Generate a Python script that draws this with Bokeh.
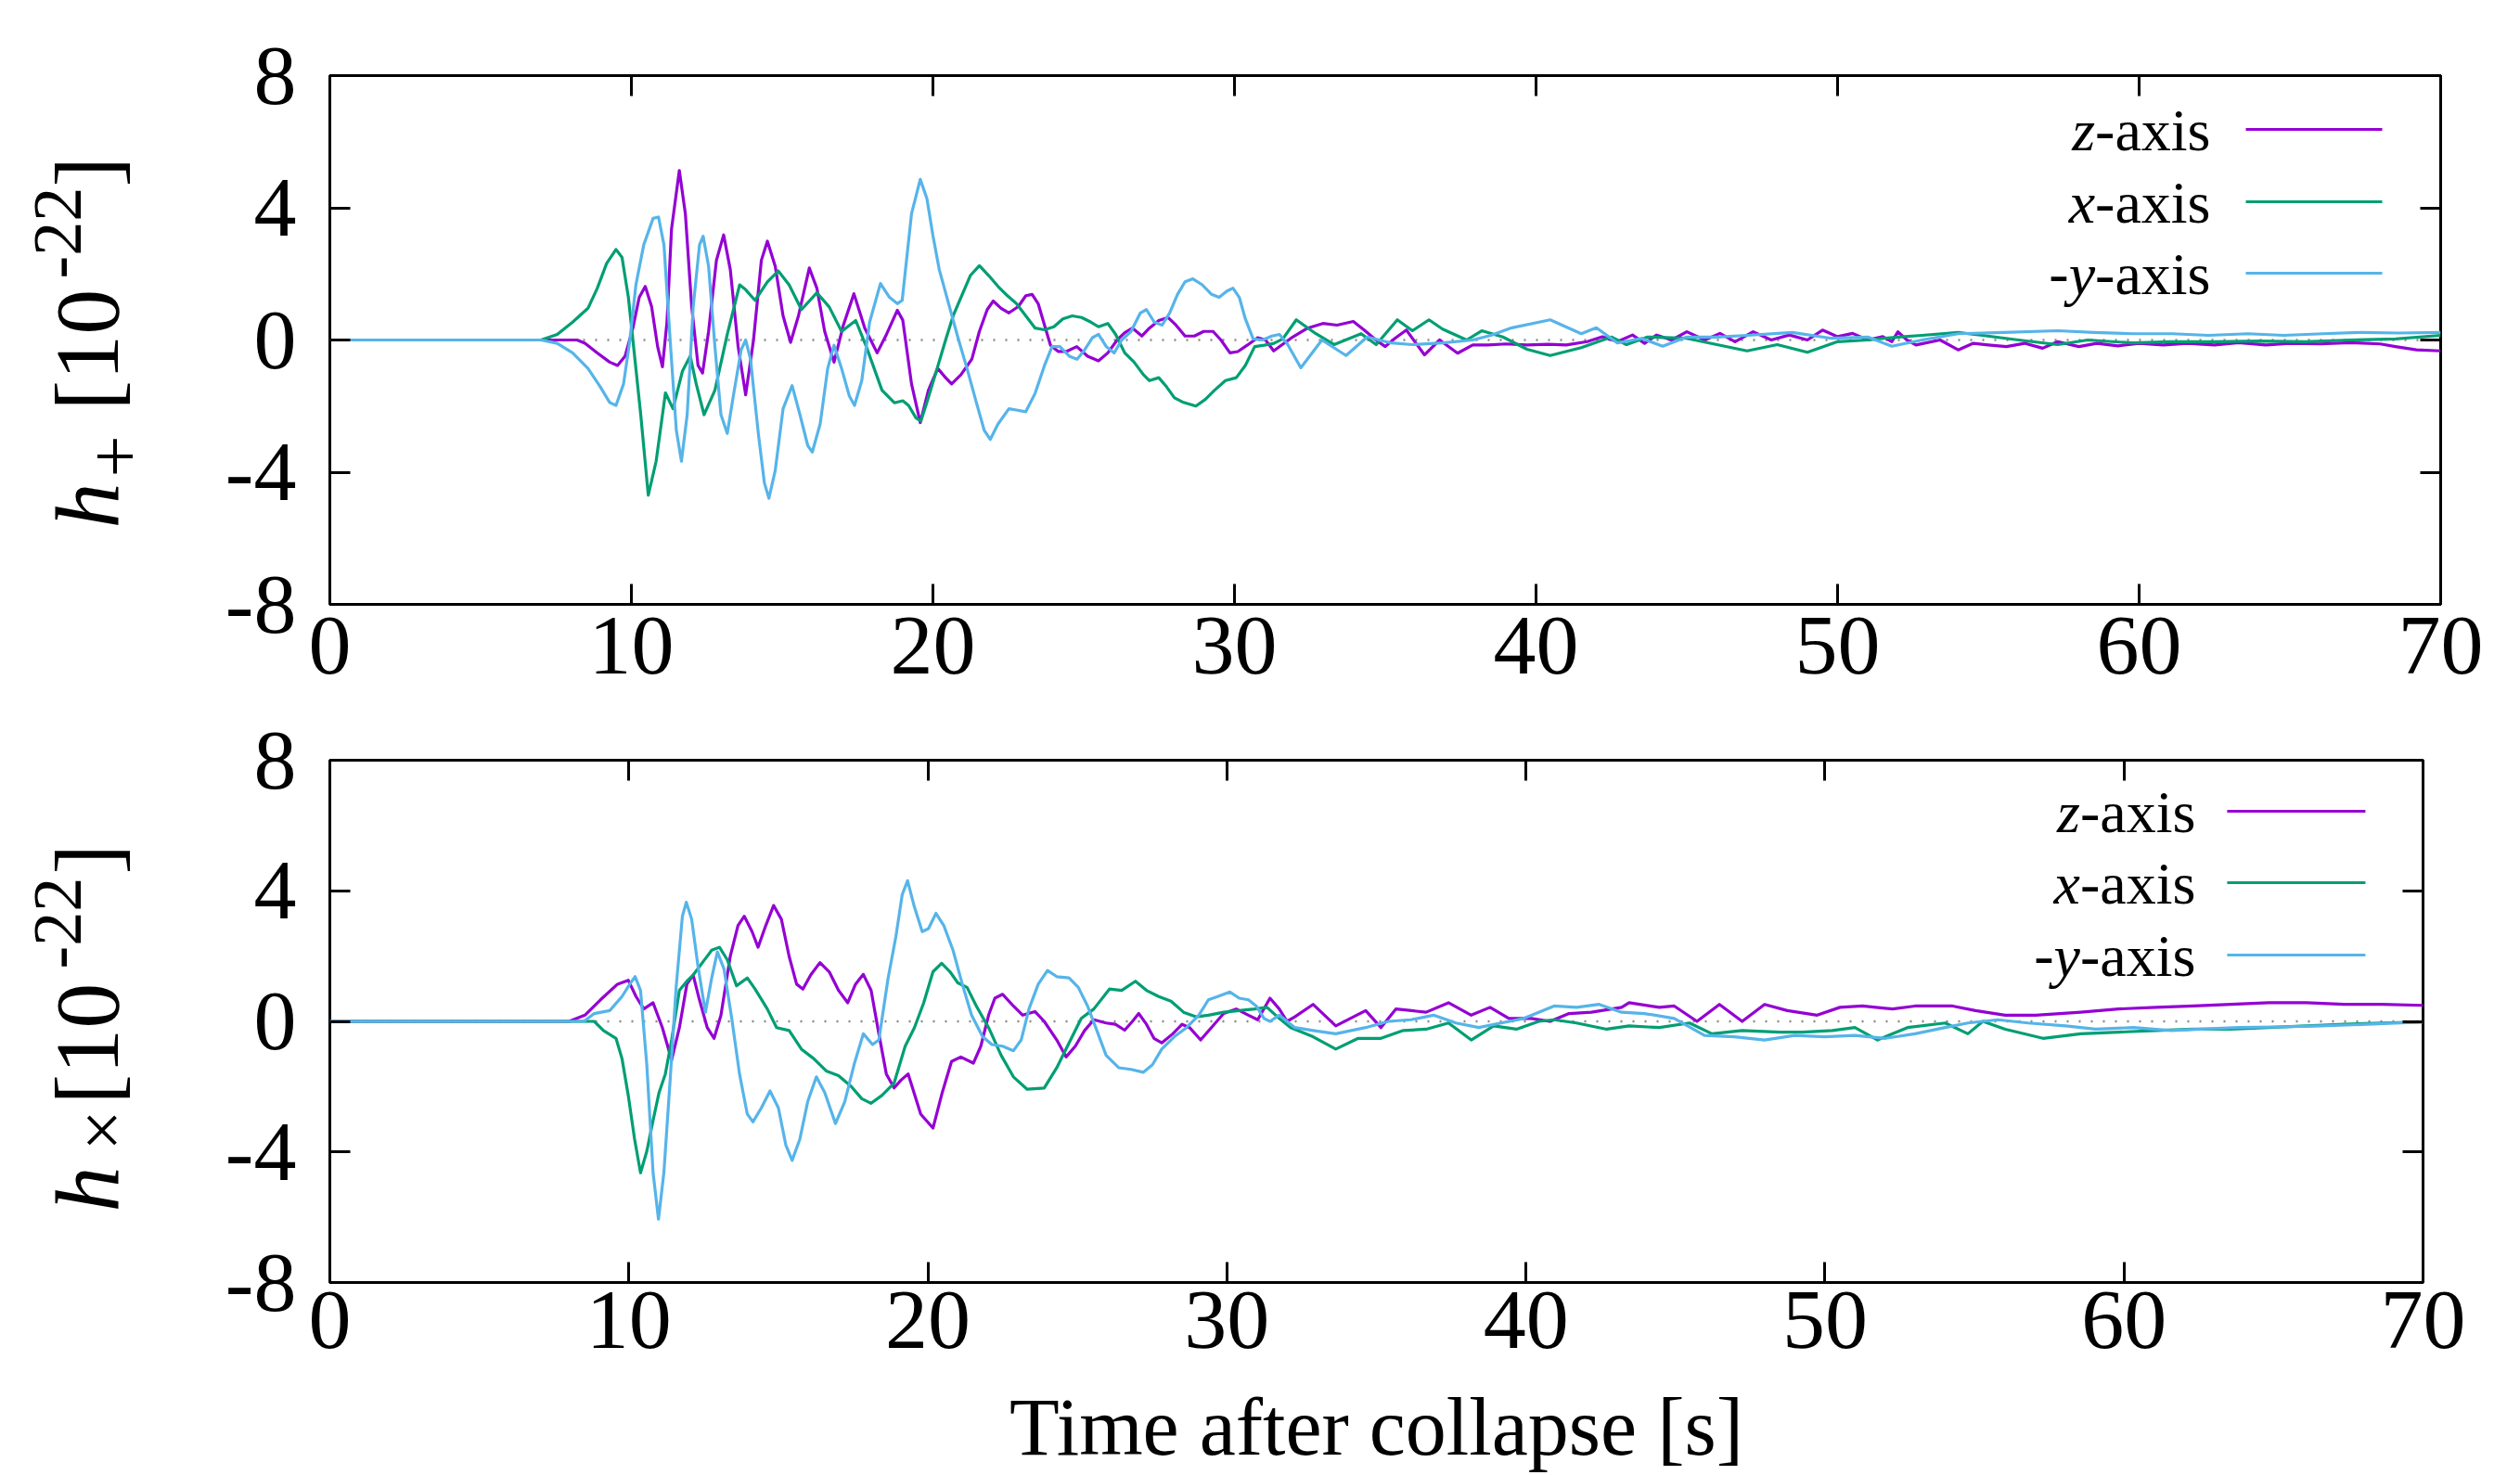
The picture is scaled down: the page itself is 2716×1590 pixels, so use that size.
import math
from bokeh.plotting import figure
from bokeh.models import Range1d, FixedTicker, LinearAxis, Span, Label, Arrow
from bokeh.layouts import column, row
from bokeh.embed import file_html
from bokeh.resources import INLINE

# ---------------- data ----------------
x_ticks = [0, 10, 20, 30, 40, 50, 60, 70]
x_tick_labels = ["0", "10", "20", "30", "40", "50", "60", "70"]
y_ticks = [-8, -4, 0, 4, 8]
y_tick_labels = ["-8", "-4", "0", "4", "8"]
series_names = ["z-axis", "x-axis", "-y-axis"]
series_colors = ["#9400D3", "#009E73", "#56B4E9"]
x_title = "Time after collapse [s]"

# h_plus, z-axis
t_plus_z = [0, 8.2, 8.46, 8.87, 9.28, 9.54, 9.79, 10.05, 10.26, 10.46, 10.67, 10.87, 11.03, 11.18, 11.33, 11.59,
            11.79, 12.0, 12.21, 12.36, 12.56, 12.82, 13.06, 13.28, 13.54, 13.79, 14.05, 14.31, 14.51, 14.77, 15.03,
            15.28, 15.54, 15.9, 16.15, 16.41, 16.72, 17.03, 17.38, 17.74, 18.15, 18.46, 18.82, 19.0, 19.29, 19.58,
            19.85, 20.16, 20.42, 20.62, 20.93, 21.29, 21.54, 21.8, 22.0, 22.26, 22.52, 22.83, 23.08, 23.29, 23.49,
            23.7, 23.9, 24.16, 24.42, 24.77, 25.13, 25.49, 25.8, 26.11, 26.36, 26.62, 26.93, 27.18, 27.49, 27.8,
            28.06, 28.36, 28.67, 28.98, 29.29, 29.55, 29.85, 30.11, 30.42, 30.77, 31.03, 31.3, 31.93, 32.4, 32.93,
            33.4, 33.94, 34.3, 34.69, 35.0, 35.32, 35.7, 36.3, 36.8, 37.4, 37.9, 38.4, 39.0, 39.7, 40.4, 41.0, 41.7,
            42.2, 42.7, 43.2, 43.6, 44.0, 44.5, 45.0, 45.6, 46.1, 46.6, 47.2, 47.8, 48.4, 49.0, 49.5, 50.0, 50.5,
            51.0, 51.5, 51.8, 52.0, 52.3, 52.6, 53.4, 54.0, 54.5, 55.0, 55.6, 56.2, 56.8, 57.3, 58.0, 58.6, 59.3,
            60.0, 60.8, 61.6, 62.5, 63.3, 64.2, 65.0, 66.0, 67.0, 68.0, 68.5, 69.2, 70.0]
h_plus_z = [0, 0, -0.1, -0.39, -0.67, -0.77, -0.49, 0.36, 1.29, 1.62, 1.01, -0.2, -0.81, 0.54, 3.35, 5.13,
            3.82, 1.01, -0.77, -1.0, 0.26, 2.41, 3.18, 2.13, -0.2, -1.66, 0.0, 2.41, 2.99, 2.23, 0.73,
            -0.07, 0.73, 2.18, 1.57, 0.26, -0.67, 0.45, 1.4, 0.36, -0.39, 0.17, 0.9, 0.6, -1.33, -2.5,
            -1.52, -0.86, -1.14, -1.33, -1.05, -0.58, 0.26, 0.92, 1.18, 0.96, 0.82, 1.01, 1.34, 1.38, 1.1,
            0.45, -0.16, -0.35, -0.35, -0.2, -0.49, -0.63, -0.39, 0.0, 0.22, 0.36, 0.12, 0.36, 0.59, 0.68,
            0.45, 0.12, 0.12, 0.26, 0.26, 0.0, -0.39, -0.35, -0.16, 0.07, 0.0, -0.33, 0.09, 0.35, 0.5,
            0.45, 0.56, 0.3, 0.0, -0.2, 0.05, 0.3, -0.45, 0.0, -0.4, -0.15, -0.15, -0.12, -0.15, -0.13, -0.15, -0.05,
            0.1, -0.05, 0.15, -0.1, 0.15, 0.0, 0.25, 0.0, 0.2, -0.05, 0.25, 0.0, 0.15, 0.0, 0.3, 0.1, 0.2,
            0.0, 0.1, -0.05, 0.25, 0.0, -0.15, 0.0, -0.3, -0.1, -0.15, -0.2, -0.1, -0.25, -0.05, -0.2, -0.1, -0.18,
            -0.1, -0.15, -0.1, -0.15, -0.08, -0.15, -0.1, -0.12, -0.08, -0.12, -0.2, -0.3, -0.33]

# h_plus, x-axis
t_plus_x = [0, 7.0, 7.54, 8.05, 8.56, 8.87, 9.18, 9.49, 9.69, 9.9, 10.05, 10.31, 10.56, 10.82, 11.13, 11.38,
            11.69, 11.95, 12.15, 12.41, 12.77, 13.18, 13.59, 13.79, 14.1, 14.51, 14.87, 15.23, 15.64, 16.15,
            16.56, 16.97, 17.44, 17.79, 18.31, 18.72, 19.0, 19.19, 19.44, 19.6, 19.8, 20.11, 20.42, 20.67, 20.93,
            21.24, 21.54, 21.85, 22.16, 22.47, 22.77, 23.08, 23.39, 23.7, 24.01, 24.31, 24.62, 24.93, 25.24,
            25.49, 25.8, 26.06, 26.36, 26.67, 26.98, 27.18, 27.49, 27.75, 28.01, 28.31, 28.72, 29.03, 29.34,
            29.7, 30.06, 30.36, 30.67, 30.98, 31.29, 31.6, 32.05, 32.7, 33.3, 34.2, 34.7, 35.4, 35.9, 36.45,
            36.9, 37.7, 38.2, 38.9, 39.7, 40.47, 41.5, 42.5, 43.0, 43.7, 45.0, 46.0, 47.0, 48.0, 49.0, 50.0,
            51.0, 52.0, 52.8, 54.0, 54.8, 56.0, 57.3, 58.3, 59.8, 61.0, 62.5, 64.0, 65.5, 67.0, 68.5, 70.0]
h_plus_x = [0, 0, 0.17, 0.54, 0.96, 1.57, 2.32, 2.74, 2.5, 1.29, 0.0, -2.26, -4.7, -3.67, -1.6, -2.08,
            -0.95, -0.49, -1.33, -2.26, -1.52, 0.17, 1.67, 1.52, 1.2, 1.76, 2.09, 1.67, 0.92, 1.43,
            1.0, 0.26, 0.59, -0.2, -1.52, -1.9, -1.84, -1.98, -2.36, -2.45, -1.89, -0.95, 0.0, 0.73, 1.29,
            1.95, 2.25, 1.95, 1.62, 1.34, 1.1, 0.73, 0.36, 0.31, 0.4, 0.64, 0.73, 0.68, 0.54,
            0.4, 0.5, 0.17, -0.39, -0.67, -1.05, -1.23, -1.14, -1.42, -1.75, -1.89, -2.0, -1.8, -1.52,
            -1.23, -1.14, -0.77, -0.2, -0.16, -0.11, 0.03, 0.61, 0.19, -0.14, 0.19, -0.14, 0.61, 0.28, 0.61,
            0.33, 0.0, 0.28, 0.09, -0.28, -0.47, -0.23, 0.09, -0.14, 0.09, 0.05, -0.14, -0.33, -0.14, -0.37, -0.05,
            0.0, 0.09, 0.14, 0.23, 0.14, 0.0, -0.14, 0.0, -0.09, -0.05, -0.05, -0.03, -0.05, 0.0, 0.03, 0.14]

# h_plus, -y-axis
t_plus_y = [0, 7.0, 7.54, 8.05, 8.56, 8.97, 9.28, 9.49, 9.74, 9.95, 10.15, 10.41, 10.72, 10.9, 11.08, 11.28,
            11.49, 11.66, 11.85, 12.05, 12.26, 12.38, 12.56, 12.77, 12.97, 13.18, 13.38, 13.64, 13.79, 13.95,
            14.21, 14.41, 14.56, 14.77, 15.03, 15.33, 15.59, 15.85, 16.0, 16.26, 16.51, 16.72, 16.97, 17.23,
            17.4, 17.64, 17.9, 18.26, 18.56, 18.82, 18.98, 19.29, 19.58, 19.8, 20.0, 20.21, 20.52, 20.83, 21.13,
            21.44, 21.7, 21.9, 22.16, 22.52, 22.77, 23.08, 23.39, 23.7, 23.95, 24.21, 24.52, 24.78, 25.03,
            25.29, 25.49, 25.75, 26.01, 26.26, 26.57, 26.88, 27.08, 27.34, 27.6, 27.85, 28.11, 28.36, 28.62,
            28.93, 29.24, 29.49, 29.75, 29.95, 30.16, 30.36, 30.62, 30.93, 31.24, 31.49, 31.75, 32.2, 32.9,
            33.7, 34.4, 35.2, 35.9, 36.9, 37.9, 38.5, 39.2, 40.47, 41.5, 42.0, 42.7, 43.5, 44.2, 45.0, 46.0,
            47.0, 48.5, 49.8, 51.0, 51.8, 52.8, 54.0, 55.5, 57.3, 58.5, 59.8, 61.1, 62.3, 63.6, 64.8, 66.1,
            67.4, 68.6, 70.0]
h_plus_y = [0, 0, -0.1, -0.39, -0.86, -1.42, -1.89, -1.98, -1.33, 0.0, 1.67, 2.88, 3.68, 3.72, 2.88, 0.07,
            -2.73, -3.67, -2.26, 1.01, 2.88, 3.14, 2.23, -0.2, -2.26, -2.83, -1.7, -0.3, 0.0, -0.58,
            -2.83, -4.32, -4.79, -3.95, -2.08, -1.38, -2.26, -3.2, -3.39, -2.54, -0.86, -0.16, -0.86, -1.7,
            -1.98, -1.23, 0.54, 1.71, 1.29, 1.1, 1.2, 3.82, 4.86, 4.28, 3.16, 2.13, 1.1, 0.07, -0.86,
            -1.89, -2.73, -3.01, -2.54, -2.08, -2.12, -2.17, -1.61, -0.77, -0.2, -0.2, -0.49, -0.58, -0.3,
            0.07, 0.17, -0.2, -0.39, 0.0, 0.26, 0.82, 0.92, 0.54, 0.45, 0.82, 1.38, 1.76, 1.85,
            1.67, 1.38, 1.29, 1.48, 1.57, 1.29, 0.64, 0.03, 0.0, 0.12, 0.17, -0.11, -0.84, 0.0,
            -0.47, 0.09, -0.09, -0.14, -0.09, 0.0, 0.14, 0.37, 0.61, 0.19, 0.37, -0.09, 0.05, -0.19, 0.09, 0.09,
            0.14, 0.23, 0.05, 0.09, -0.19, 0.0, 0.19, 0.23, 0.28, 0.23, 0.19, 0.19, 0.14, 0.19, 0.14, 0.19,
            0.23, 0.21, 0.23]

# h_cross, z-axis
t_cross_z = [0, 8.0, 8.53, 9.05, 9.62, 9.98, 10.24, 10.5, 10.81, 11.12, 11.43, 11.69, 11.94, 12.15, 12.36,
             12.62, 12.85, 13.08, 13.39, 13.65, 13.86, 14.12, 14.32, 14.58, 14.84, 15.1, 15.36, 15.61, 15.82,
             16.08, 16.39, 16.7, 17.01, 17.32, 17.58, 17.84, 18.1, 18.36, 18.61, 18.87, 19.1, 19.34, 19.76,
             20.17, 20.48, 20.79, 21.1, 21.52, 21.77, 22.03, 22.24, 22.5, 22.86, 23.17, 23.58, 23.89, 24.31,
             24.62, 24.93, 25.24, 25.55, 25.96, 26.27, 26.58, 26.84, 27.05, 27.31, 27.56, 27.82, 28.19, 28.5,
             28.75, 29.12, 29.48, 29.89, 30.31, 30.72, 31.03, 31.44, 31.75, 32.01, 32.27, 32.88, 33.64, 34.64,
             35.15, 35.65, 36.66, 37.41, 38.17, 38.8, 39.43, 40.18, 40.81, 41.44, 42.19, 43.2, 43.45, 44.46,
             44.96, 45.72, 46.47, 47.23, 47.98, 48.74, 49.74, 50.5, 51.25, 52.26, 53.01, 54.27, 55.03, 56.03,
             57.04, 58.55, 59.81, 61.07, 62.33, 63.58, 64.84, 66.1, 67.36, 68.62, 70.0]
h_cross_z = [0, 0, 0.19, 0.66, 1.14, 1.26, 0.76, 0.38, 0.57, -0.19, -1.18, -0.19, 1.14, 1.42, 0.66,
             -0.19, -0.52, 0.19, 1.99, 2.94, 3.22, 2.75, 2.27, 2.94, 3.55, 3.13, 1.99, 1.14, 0.99,
             1.42, 1.8, 1.52, 0.95, 0.57, 1.14, 1.44, 0.95, -0.38, -1.61, -2.04, -1.8, -1.61, -2.84,
             -3.27, -2.18, -1.23, -1.09, -1.28, -0.76, 0.19, 0.71, 0.83, 0.47, 0.19, 0.3, 0.0, -0.57,
             -1.09, -0.76, -0.28, 0.05, -0.05, -0.09, -0.27, 0.0, 0.24, -0.09, -0.52, -0.66, -0.38, -0.09,
             -0.19, -0.57, -0.19, 0.24, 0.38, 0.19, 0.05, 0.71, 0.38, 0.0, 0.14, 0.52, -0.14, 0.33,
             -0.19, 0.38, 0.28, 0.57, 0.19, 0.43, 0.09, 0.09, 0.0, 0.24, 0.28, 0.43, 0.57, 0.43,
             0.47, 0.0, 0.52, 0.0, 0.52, 0.33, 0.19, 0.43, 0.47, 0.38, 0.47, 0.47, 0.33, 0.19,
             0.19, 0.28, 0.38, 0.43, 0.47, 0.52, 0.57, 0.57, 0.52, 0.52, 0.49]

# h_cross, x-axis
t_cross_x = [0, 8.84, 9.15, 9.57, 9.77, 9.98, 10.19, 10.39, 10.6, 10.81, 11.01, 11.22, 11.43, 11.69, 11.94,
             12.15, 12.46, 12.77, 13.03, 13.29, 13.6, 13.96, 14.22, 14.63, 14.94, 15.36, 15.77, 16.18, 16.6,
             17.01, 17.43, 17.79, 18.1, 18.46, 18.87, 19.24, 19.55, 19.86, 20.17, 20.46, 20.74, 21.0, 21.31,
             21.62, 22.03, 22.45, 22.86, 23.32, 23.89, 24.31, 24.72, 25.13, 25.55, 26.07, 26.48, 26.94, 27.31,
             27.72, 28.13, 28.55, 28.96, 29.38, 29.89, 30.41, 30.93, 31.34, 31.75, 32.13, 32.88, 33.64, 34.39,
             35.15, 35.9, 36.66, 37.41, 38.17, 38.92, 39.68, 40.43, 40.94, 41.69, 42.7, 43.45, 44.46, 45.47,
             46.22, 47.23, 48.49, 49.24, 50.25, 51.0, 51.76, 52.76, 54.02, 54.78, 55.28, 56.03, 57.29, 58.55,
             59.81, 61.07, 62.33, 63.58, 64.84, 66.1, 67.36, 68.62, 70.0]
h_cross_x = [0, 0, -0.28, -0.52, -1.14, -2.27, -3.6, -4.64, -3.98, -3.03, -2.18, -1.61, -0.57, 0.95, 1.23,
             1.42, 1.8, 2.18, 2.27, 1.89, 1.09, 1.33, 0.99, 0.38, -0.19, -0.28, -0.85, -1.14, -1.52,
             -1.66, -1.99, -2.37, -2.51, -2.27, -1.89, -0.76, -0.19, 0.57, 1.52, 1.78, 1.52, 1.18, 1.04,
             0.47, -0.19, -1.04, -1.7, -2.08, -2.04, -1.42, -0.66, 0.09, 0.38, 0.99, 0.95, 1.23, 0.95,
             0.76, 0.62, 0.28, 0.14, 0.19, 0.28, 0.33, 0.38, 0.43, 0.09, -0.19, -0.47, -0.85, -0.52,
             -0.52, -0.28, -0.24, -0.05, -0.57, -0.14, -0.24, 0.0, 0.05, -0.05, -0.24, -0.14, -0.19, -0.05,
             -0.38, -0.28, -0.33, -0.33, -0.28, -0.19, -0.57, -0.19, -0.05, -0.38, 0.0, -0.24, -0.52, -0.38,
             -0.33, -0.28, -0.24, -0.24, -0.19, -0.14, -0.09, -0.05, -0.02]

# h_cross, -y-axis
t_cross_y = [0, 8.5, 8.84, 9.36, 9.77, 10.03, 10.21, 10.39, 10.6, 10.81, 10.99, 11.17, 11.38, 11.58, 11.79,
             11.92, 12.1, 12.31, 12.56, 12.77, 12.96, 13.18, 13.44, 13.7, 13.96, 14.15, 14.43, 14.72, 15.0,
             15.25, 15.46, 15.72, 15.98, 16.27, 16.55, 16.91, 17.22, 17.53, 17.84, 18.15, 18.36, 18.67, 18.93,
             19.14, 19.32, 19.55, 19.81, 20.02, 20.27, 20.53, 20.84, 21.15, 21.46, 21.83, 22.14, 22.5, 22.86,
             23.12, 23.38, 23.69, 24.0, 24.31, 24.72, 25.03, 25.34, 25.65, 25.96, 26.38, 26.79, 27.2, 27.51,
             27.82, 28.24, 28.65, 29.06, 29.38, 29.69, 30.1, 30.41, 30.72, 30.98, 31.24, 31.44, 31.75, 32.01,
             32.27, 32.88, 33.64, 34.64, 35.4, 36.15, 36.91, 37.66, 38.42, 39.17, 39.93, 40.94, 41.69, 42.45,
             43.2, 43.96, 44.96, 45.97, 46.97, 47.98, 48.99, 49.99, 51.0, 52.01, 53.01, 54.02, 54.78, 55.78,
             56.79, 58.05, 59.05, 60.31, 61.57, 62.58, 63.83, 65.09, 66.6, 68.11, 70.0]
h_cross_y = [0, 0, 0.24, 0.33, 0.76, 1.14, 1.37, 0.95, -1.33, -4.64, -6.06, -4.64, -1.8, 1.04, 3.22,
             3.65, 3.13, 1.7, 0.28, 1.33, 2.13, 1.61, 0.09, -1.61, -2.84, -3.08, -2.65, -2.13, -2.65,
             -3.79, -4.26, -3.6, -2.46, -1.7, -2.18, -3.13, -2.46, -1.33, -0.38, -0.71, -0.57, 1.33, 2.6,
             3.88, 4.31, 3.5, 2.75, 2.84, 3.31, 2.94, 2.18, 1.14, 0.19, -0.47, -0.71, -0.76, -0.9,
             -0.57, 0.38, 1.14, 1.56, 1.37, 1.33, 1.04, 0.47, -0.28, -1.04, -1.42, -1.47, -1.56, -1.33,
             -0.85, -0.47, -0.19, 0.19, 0.66, 0.76, 0.9, 0.71, 0.66, 0.47, 0.09, 0.0, 0.19, 0.0,
             -0.19, -0.28, -0.38, -0.19, 0.0, 0.05, 0.19, -0.05, -0.19, -0.05, 0.09, 0.47, 0.43, 0.52,
             0.28, 0.24, 0.09, -0.43, -0.47, -0.57, -0.43, -0.47, -0.43, -0.52, -0.38, -0.19, -0.05, 0.05,
             -0.05, -0.14, -0.24, -0.19, -0.28, -0.24, -0.19, -0.17, -0.14, -0.09, -0.02]

# ---------------- styling / layout ----------------
SERIF = "Liberation Serif"
PAGE_W = 2716
YLAB_W = 200          # strip carrying the rotated y titles
RIGHT_B = 86          # common right border of both panels
MID = 0.35            # Label anchor sits ~0.35 em above the baseline
W_UP = {"-": 0.333, "a": 0.444, "x": 0.5, "i": 0.278, "s": 0.389}
W_IT = {"z": 0.389, "x": 0.444, "y": 0.444}


def style_axis(ax, ticks, labels, show, standoff):
    ax.ticker = FixedTicker(ticks=ticks)
    ax.major_label_overrides = {t: (l if show else "") for t, l in zip(ticks, labels)}
    ax.major_tick_in = 22
    ax.major_tick_out = 0
    ax.major_tick_line_width = 3
    ax.major_tick_line_color = "black"
    ax.minor_tick_line_color = None
    ax.axis_line_color = None
    ax.major_label_text_font = SERIF
    ax.major_label_text_font_size = "92px" if show else "0px"
    ax.major_label_text_color = "black"
    ax.major_label_standoff = standoff


def make_panel(width, height, border_top, border_bottom, x_standoff):
    p = figure(width=width, height=height, x_range=Range1d(0, 70), y_range=Range1d(-8, 8),
               output_backend="svg", toolbar_location=None,
               min_border_left=355 - YLAB_W, min_border_right=RIGHT_B,
               min_border_top=border_top, min_border_bottom=border_bottom)
    p.background_fill_color = "white"
    p.border_fill_color = "white"
    p.outline_line_color = "black"
    p.outline_line_width = 3
    p.xgrid.visible = False
    p.ygrid.visible = False
    style_axis(p.xaxis[0], x_ticks, x_tick_labels, True, x_standoff)
    style_axis(p.yaxis[0], y_ticks, y_tick_labels, True, 36)
    top_ax = LinearAxis()
    right_ax = LinearAxis()
    style_axis(top_ax, x_ticks, x_tick_labels, False, 0)
    style_axis(right_ax, y_ticks, y_tick_labels, False, 0)
    p.add_layout(top_ax, "above")
    p.add_layout(right_ax, "right")
    p.add_layout(Span(location=0, dimension="width", line_color="#8a8a8a", line_width=2.5,
                      line_dash="2 11", level="underlay"))
    return p


def make_strip(width, height, border_top, border_bottom, x0, frame_top_py, frame_bottom_py):
    f = figure(width=width, height=height, x_range=Range1d(x0, x0 + width),
               y_range=Range1d(-frame_bottom_py, -frame_top_py),
               x_axis_type=None, y_axis_type=None, output_backend="svg", toolbar_location=None,
               min_border_left=0, min_border_right=0, min_border_top=border_top,
               min_border_bottom=border_bottom)
    f.outline_line_color = None
    f.background_fill_color = "white"
    f.border_fill_color = "white"
    return f


def add_text(p, conv, px, py, text, size, italic=False, rotated=False, align="left", font=SERIF):
    # (px, py) is the start of the baseline in page pixels
    if rotated:
        px = px - MID * size
    else:
        py = py - MID * size
    x, y = conv(px, py)
    p.add_layout(Label(x=x, y=y, text=text, text_font=font, text_font_size=f"{size}px",
                       text_font_style="italic" if italic else "normal", text_color="black",
                       angle=math.pi / 2 if rotated else 0.0, angle_units="rad",
                       text_align=align, text_baseline="middle"))


def add_curves(p, ts, hs):
    for t, h, c in zip(ts, hs, series_colors):
        p.line(t, h, line_color=c, line_width=3.2, line_join="round")


def add_legend(p, conv, right_px, line_x0, line_x1, line_ys):
    fs = 64
    for name, color, ly in zip(series_names, series_colors, line_ys):
        ital = name.split("-")[-2][-1]
        prefix = "-" if name.startswith("-") else ""
        suffix = "-axis"
        w_suf = sum(W_UP[ch] for ch in suffix) * fs
        w_it = W_IT[ital] * fs
        base = ly + 23
        x_suf = right_px - w_suf
        add_text(p, conv, x_suf, base, suffix, fs)
        add_text(p, conv, x_suf - w_it, base, ital, fs, italic=True)
        if prefix:
            add_text(p, conv, x_suf - w_it - W_UP["-"] * fs, base, prefix, fs)
        xs, ys = conv(line_x0, ly)
        xe, ye = conv(line_x1, ly)
        p.add_layout(Arrow(end=None, x_start=xs, y_start=ys, x_end=xe, y_end=ye,
                           line_color=color, line_width=3.2))


# page-pixel -> data converters (frames: top 355..2630 x 81..651, bottom 355..2611 x 819..1382)
def top_xy(px, py):
    return (px - 355) / 32.5, (366 - py) / 35.625


def bot_xy(px, py):
    return (px - 355) / 32.23, (1100.5 - py) / 35.19


def page_xy(px, py):
    return px, -py


H1 = 767               # page 0 .. 767
H2 = 723               # page 767 .. 1490
H3 = 1590 - H1 - H2    # title strip, page 1490 .. 1590

# ---- top panel ----
p1 = make_panel(2630 + RIGHT_B - YLAB_W, H1, 81, H1 - 651, 14)
add_curves(p1, [t_plus_z, t_plus_x, t_plus_y], [h_plus_z, h_plus_x, h_plus_y])
add_legend(p1, top_xy, 2382, 2420, 2567, [139, 217, 294])
s1 = make_strip(YLAB_W, H1, 81, H1 - 651, 0, 81, 651)
add_text(s1, page_xy, 128, 569, "h", 98, italic=True, rotated=True)
add_text(s1, page_xy, 152, 514, "+", 80, rotated=True)
add_text(s1, page_xy, 128, 442, "[10", 98, rotated=True)
add_text(s1, page_xy, 88, 300, "-22", 74, rotated=True)
add_text(s1, page_xy, 128, 201, "]", 98, rotated=True)

# ---- bottom panel ----
top2 = 819 - H1
p2 = make_panel(2611 + RIGHT_B - YLAB_W, H2, top2, H2 - top2 - 563, 10)
add_curves(p2, [t_cross_z, t_cross_x, t_cross_y], [h_cross_z, h_cross_x, h_cross_y])
add_legend(p2, bot_xy, 2366, 2400, 2549, [874, 951, 1029])
s2 = make_strip(YLAB_W, H2, top2, H2 - top2 - 563, 0, 819, 1382)
add_text(s2, page_xy, 128, 1306, "h", 98, italic=True, rotated=True)
add_text(s2, page_xy, 136, 1240, "\u00d7", 78, rotated=True)
add_text(s2, page_xy, 128, 1190, "[10", 98, rotated=True)
add_text(s2, page_xy, 88, 1044, "-22", 74, rotated=True)
add_text(s2, page_xy, 128, 942, "]", 98, rotated=True)

# ---- x title strip ----
s3 = make_strip(PAGE_W, H3, 0, 0, 0, H1 + H2, 1590)
add_text(s3, page_xy, 1483, 1569, x_title, 88, align="center")

layout = column(row(s1, p1, spacing=0), row(s2, p2, spacing=0), s3, spacing=0)
open("out.html", "w").write(file_html(layout, INLINE))
